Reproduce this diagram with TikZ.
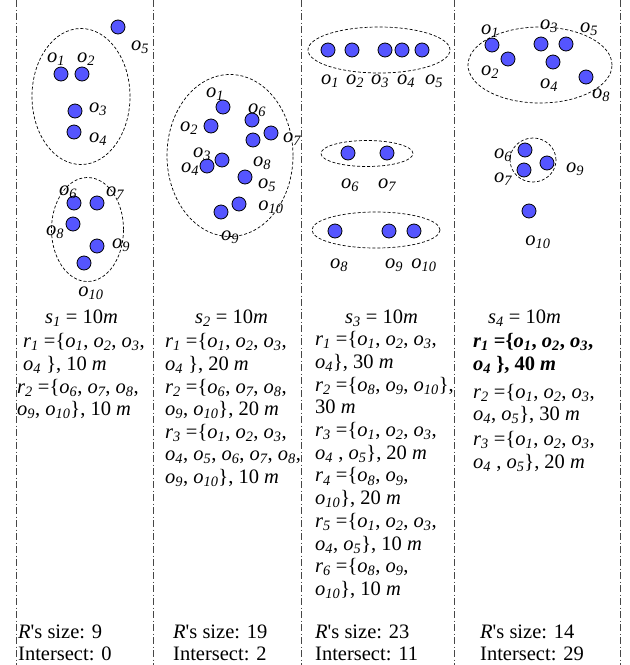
\documentclass[tikz,border=0pt]{standalone}
\usepackage{fontspec}
\setmainfont{Liberation Serif}
\newcommand\objo[1]{\textit{o\textsubscript{#1}}}
\newcommand\relr[1]{\textit{r\textsubscript{#1}}}
\newcommand\sset[1]{\textit{s\textsubscript{#1}}}
\definecolor{dotblue}{RGB}{85,85,255}
\definecolor{sepgray}{RGB}{70,70,70}
\begin{document}
\begin{tikzpicture}[x=1pt,y=-1pt,
  dot/.style={circle,draw=black,fill=dotblue,minimum size=14pt,inner sep=0pt,line width=0.8pt},
  lab/.style={font=\fontsize{20.5}{22}\selectfont,inner sep=0pt,yshift=-2.5pt},
  txt/.style={font=\fontsize{20.5}{22}\selectfont,inner sep=0pt,anchor=base west},
  grp/.style={draw=black,dash pattern=on 3pt off 2pt,line width=0.7pt},
  sepline/.style={draw=sepgray,dash pattern=on 7pt off 2.5pt on 1pt off 2.5pt,line width=0.8pt}]
\useasboundingbox (0,0) rectangle (630,665);
% separators
\foreach \xx in {16.5,153.5,301,454.5,620.5} \draw[sepline] (\xx,0) -- (\xx,665);

% ---------- column 1 ----------
\draw[grp] (81,96.5) ellipse [x radius=49pt, y radius=68pt];
\draw[grp] (87.5,229.5) ellipse [x radius=36pt, y radius=52pt];
\node[dot] (a5) at (118,27) {};
\node[dot] (a1) at (61,74) {};
\node[dot] (a2) at (82,74) {};
\node[dot] (a3) at (75,111) {};
\node[dot] (a4) at (74,132) {};
\node[dot] (a6) at (74,203) {};
\node[dot] (a7) at (97,203) {};
\node[dot] (a8) at (73,224) {};
\node[dot] (a9) at (97,246) {};
\node[dot] (a10) at (84,263) {};
\node[lab] (la5) at (140,45) {\objo{5}};
\node[lab] (la1) at (56,57) {\objo{1}};
\node[lab] (la2) at (86,57) {\objo{2}};
\node[lab] (la3) at (98,107) {\objo{3}};
\node[lab] (la4) at (98,137) {\objo{4}};
\node[lab] (la6) at (68,190) {\objo{6}};
\node[lab] (la7) at (115,191) {\objo{7}};
\node[lab] (la8) at (55,230) {\objo{8}};
\node[lab] (la9) at (121,243) {\objo{9}};
\node[lab] (la10) at (91,291) {\objo{10}};

% ---------- column 2 ----------
\draw[grp] (230,155.5) ellipse [x radius=63pt, y radius=81pt];
\node[dot] (b1) at (223,107) {};
\node[dot] (b6) at (252,120) {};
\node[dot] (b2) at (211,126) {};
\node[dot] (b7) at (271,133) {};
\node[dot] (b8) at (253,140) {};
\node[dot] (b3) at (222,160) {};
\node[dot] (b4) at (207,166) {};
\node[dot] (b5) at (245,177) {};
\node[dot] (b10) at (239,204) {};
\node[dot] (b9) at (221,212) {};
\node[lab] (lb1) at (215,92) {\objo{1}};
\node[lab] (lb6) at (257,108) {\objo{6}};
\node[lab] (lb2) at (189,126) {\objo{2}};
\node[lab] (lb7) at (292,137) {\objo{7}};
\node[lab] (lb3) at (202,152) {\objo{3}};
\node[lab] (lb4) at (190,167) {\objo{4}};
\node[lab] (lb8) at (262,161) {\objo{8}};
\node[lab] (lb5) at (267,183) {\objo{5}};
\node[lab] (lb10) at (271,205) {\objo{10}};
\node[lab] (lb9) at (230,235) {\objo{9}};

% ---------- column 3 ----------
\draw[grp] (379,50) ellipse [x radius=71pt, y radius=23pt];
\draw[grp] (367,153.5) ellipse [x radius=46pt, y radius=13pt];
\draw[grp] (376,230) ellipse [x radius=64pt, y radius=18pt];
\node[dot] (c1) at (328,50) {};
\node[dot] (c2) at (352,50) {};
\node[dot] (c3) at (385,50) {};
\node[dot] (c4) at (402,50) {};
\node[dot] (c5) at (422,50) {};
\node[dot] (c6) at (348,153) {};
\node[dot] (c7) at (387,153) {};
\node[dot] (c8) at (335,231) {};
\node[dot] (c9) at (389,231) {};
\node[dot] (c10) at (414,231) {};
\node[lab] (lc1) at (330,79) {\objo{1}};
\node[lab] (lc2) at (355,79) {\objo{2}};
\node[lab] (lc3) at (380,79) {\objo{3}};
\node[lab] (lc4) at (406,79) {\objo{4}};
\node[lab] (lc5) at (434,79) {\objo{5}};
\node[lab] (lc6) at (350,183) {\objo{6}};
\node[lab] (lc7) at (387,183) {\objo{7}};
\node[lab] (lc8) at (339,263) {\objo{8}};
\node[lab] (lc9) at (394,263) {\objo{9}};
\node[lab] (lc10) at (424,263) {\objo{10}};

% ---------- column 4 ----------
\draw[grp] (540,65) ellipse [x radius=72pt, y radius=38pt];
\draw[grp] (533,160) ellipse [x radius=23pt, y radius=22pt];
\node[dot] (d1) at (492,45) {};
\node[dot] (d2) at (508,59) {};
\node[dot] (d3) at (541,44) {};
\node[dot] (d5) at (566,44) {};
\node[dot] (d4) at (553,62) {};
\node[dot] (d8) at (586,77) {};
\node[dot] (d6) at (525,150) {};
\node[dot] (d7) at (524,170) {};
\node[dot] (d9) at (547,163) {};
\node[dot] (d10) at (529,211) {};
\node[lab] (ld1) at (490,29) {\objo{1}};
\node[lab] (ld3) at (549,24) {\objo{3}};
\node[lab] (ld5) at (589,27) {\objo{5}};
\node[lab] (ld2) at (490,70) {\objo{2}};
\node[lab] (ld4) at (549,83) {\objo{4}};
\node[lab] (ld8) at (601,93) {\objo{8}};
\node[lab] (ld6) at (503,153) {\objo{6}};
\node[lab] (ld7) at (503,177) {\objo{7}};
\node[lab] (ld9) at (575,167) {\objo{9}};
\node[lab] (ld10) at (538,240) {\objo{10}};

% ---------- texts column 1 ----------
\node[txt] (ta0) at (45,323) {\sset{1} = 10\textit{m}};
\node[txt] (ta1) at (23,347) {\relr{1} =\{\objo{1}, \objo{2}, \objo{3},};
\node[txt] (ta2) at (23,370) {\objo{4} \}, 10 \textit{m}};
\node[txt] (ta3) at (17,393) {\relr{2} =\{\objo{6}, \objo{7}, \objo{8},};
\node[txt] (ta4) at (17,415) {\objo{9}, \objo{10}\}, 10 \textit{m}};
\node[txt] (ta5) at (18,638) {\textit{R}\textquotesingle s size: 9};
\node[txt] (ta6) at (18,660) {Intersect: 0};

% ---------- texts column 2 ----------
\node[txt] (tb0) at (195,323) {\sset{2} = 10\textit{m}};
\node[txt] (tb1) at (165,347) {\relr{1} =\{\objo{1}, \objo{2}, \objo{3},};
\node[txt] (tb2) at (165,370) {\objo{4} \}, 20 \textit{m}};
\node[txt] (tb3) at (165,393) {\relr{2} =\{\objo{6}, \objo{7}, \objo{8},};
\node[txt] (tb4) at (165,415) {\objo{9}, \objo{10}\}, 20 \textit{m}};
\node[txt] (tb5) at (165,438) {\relr{3} =\{\objo{1}, \objo{2}, \objo{3},};
\node[txt] (tb6) at (165,460) {\objo{4}, \objo{5}, \objo{6}, \objo{7}, \objo{8},};
\node[txt] (tb7) at (165,483) {\objo{9}, \objo{10}\}, 10 \textit{m}};
\node[txt] (tb8) at (173,638) {\textit{R}\textquotesingle s size: 19};
\node[txt] (tb9) at (173,660) {Intersect: 2};

% ---------- texts column 3 ----------
\node[txt] (tc0) at (345,323) {\sset{3} = 10\textit{m}};
\node[txt] (tc1) at (315,345.7) {\relr{1} =\{\objo{1}, \objo{2}, \objo{3},};
\node[txt] (tc2) at (315,368.4) {\objo{4}\}, 30 \textit{m}};
\node[txt] (tc3) at (315,391.1) {\relr{2} =\{\objo{8}, \objo{9}, \objo{10}\},};
\node[txt] (tc4) at (315,413.8) {30 \textit{m}};
\node[txt] (tc5) at (315,436.5) {\relr{3} =\{\objo{1}, \objo{2}, \objo{3},};
\node[txt] (tc6) at (315,459.2) {\objo{4} , \objo{5}\}, 20 \textit{m}};
\node[txt] (tc7) at (315,481.9) {\relr{4} =\{\objo{8}, \objo{9},};
\node[txt] (tc8) at (315,504.6) {\objo{10}\}, 20 \textit{m}};
\node[txt] (tc9) at (315,527.3) {\relr{5} =\{\objo{1}, \objo{2}, \objo{3},};
\node[txt] (tc10) at (315,550) {\objo{4}, \objo{5}\}, 10 \textit{m}};
\node[txt] (tc11) at (315,572.7) {\relr{6} =\{\objo{8}, \objo{9},};
\node[txt] (tc12) at (315,595.4) {\objo{10}\}, 10 \textit{m}};
\node[txt] (tc13) at (315,638) {\textit{R}\textquotesingle s size: 23};
\node[txt] (tc14) at (315,660) {Intersect: 11};

% ---------- texts column 4 ----------
\node[txt] (td0) at (488,323) {\sset{4} = 10\textit{m}};
\node[txt] (td1) at (473,347) {\bfseries\relr{1} =\{\objo{1}, \objo{2}, \objo{3},};
\node[txt] (td2) at (473,370) {\bfseries\objo{4} \}, 40 \textit{m}};
\node[txt] (td3) at (473,398) {\relr{2} =\{\objo{1}, \objo{2}, \objo{3},};
\node[txt] (td4) at (473,420) {\objo{4}, \objo{5}\}, 30 \textit{m}};
\node[txt] (td5) at (473,445) {\relr{3} =\{\objo{1}, \objo{2}, \objo{3},};
\node[txt] (td6) at (473,468) {\objo{4} , \objo{5}\}, 20 \textit{m}};
\node[txt] (td7) at (480,638) {\textit{R}\textquotesingle s size: 14};
\node[txt] (td8) at (480,660) {Intersect: 29};
\end{tikzpicture}
\end{document}
